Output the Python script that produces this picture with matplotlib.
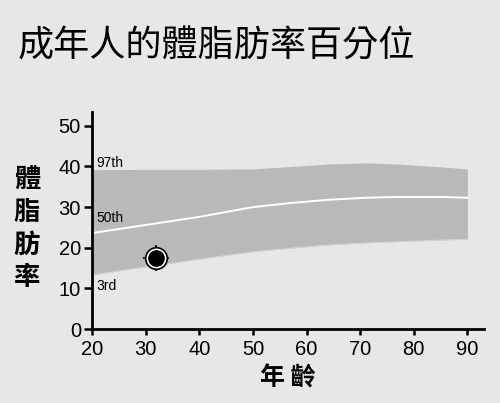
import numpy as np
import matplotlib.pyplot as plt

# percentile curves (age -> body fat %)
ages = [20, 30, 35, 40, 50, 57, 64, 71, 77, 85, 90]
p97 = [39.2, 39.3, 39.3, 39.3, 39.4, 40.0, 40.6, 40.9, 40.6, 39.9, 39.4]
p50 = [23.6, 25.6, 26.6, 27.6, 30.0, 31.0, 31.8, 32.3, 32.5, 32.5, 32.3]
p3 = [13.3, 15.3, 16.2, 17.2, 19.0, 19.9, 20.7, 21.2, 21.5, 21.9, 22.1]
subject_age = 32
subject_fat = 17.5

title = '成年人的體脂肪率百分位'
ylabel = '體\n脂\n肪\n率'
xlabel = '年 齡'

bg = '#e7e7e7'
band = '#b9b9b9'
cjk = ['Noto Sans CJK TC', 'DejaVu Sans']

plt.rcParams['font.family'] = ['Liberation Sans', 'Noto Sans CJK TC', 'DejaVu Sans']

fig = plt.figure(figsize=(5, 4.03), dpi=100, facecolor=bg)
ax = fig.add_axes([0.184, 0.1836, 0.784, 0.5384])
ax.set_facecolor(bg)

ax.fill_between(ages, p3, p97, color=band, lw=0)
ax.plot(ages, p50, color='white', lw=1.4)
ax.plot(ages, p3, color='#d8d8d8', lw=0.6)

# target marker
ax.plot(subject_age, subject_fat, marker='+', ms=19, mew=1.2, color='black', zorder=5)
ax.plot(subject_age, subject_fat, marker='o', ms=15.5, mfc='white', mec='black', mew=1.2, zorder=6)
ax.plot(subject_age, subject_fat, marker='o', ms=11, mfc='black', mec='black', zorder=7)

ax.text(20.9, 39.9, '97th', fontsize=10, va='baseline', ha='left')
ax.text(20.9, 26.4, '50th', fontsize=10, va='baseline', ha='left')
ax.text(20.9, 9.6, '3rd', fontsize=10, va='baseline', ha='left')

ax.set_xlim(20, 93.1)
ax.set_ylim(0, 53.4)
ax.set_xticks(range(20, 91, 10))
ax.set_yticks(range(0, 51, 10))
ax.tick_params(axis='both', labelsize=14.5, width=1.8, direction='out')
ax.tick_params(axis='y', length=6, pad=2)
ax.tick_params(axis='x', length=4, pad=4)
for side in ['top', 'right']:
    ax.spines[side].set_visible(False)
for side in ['left', 'bottom']:
    ax.spines[side].set_linewidth(2)

fig.text(0.036, 0.885, title, fontsize=26, ha='left', va='center', family=cjk)
fig.text(0.054, 0.432, ylabel, fontsize=19, fontweight='bold', ha='center', va='center',
         linespacing=1.27, family=cjk)
fig.text(0.576, 0.062, xlabel, fontsize=18, fontweight='bold', ha='center', va='center',
         family=cjk)

fig.savefig('out.png', dpi=100, facecolor=bg)
